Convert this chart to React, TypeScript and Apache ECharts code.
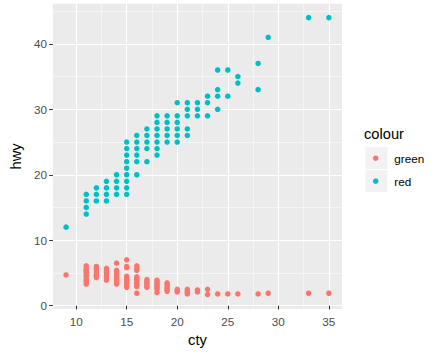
import React, { useEffect, useRef } from "react";
import * as echarts from "echarts";

const ctyValues = [9, 11, 12, 13, 14, 15, 16, 17, 18, 19, 20, 21, 22, 23, 24, 25, 26, 28, 29, 33, 35];
const hwyByCty = [
  [12],
  [14, 15, 16, 17],
  [16, 17, 18],
  [16, 17, 18, 19],
  [17, 18, 19, 20],
  [17, 18, 19, 20, 21, 22, 23, 24, 25],
  [20, 22, 23, 24, 25, 26],
  [22, 24, 25, 26, 27],
  [23, 24, 25, 26, 27, 28, 29],
  [25, 26, 27, 28, 29],
  [25, 26, 27, 28, 29, 31],
  [26, 27, 29, 30, 31],
  [29, 30, 31],
  [29, 31, 32],
  [30, 32, 33, 36],
  [32, 36],
  [34, 35],
  [33, 37],
  [41],
  [44],
  [44],
];
const displByCty = [
  [4.7],
  [6.1, 5.7, 5.4, 5.3, 5.0, 4.7, 4.4, 4.0, 3.7, 3.3],
  [6.0, 5.7, 5.5, 5.1, 4.7, 4.6, 4.3],
  [5.7, 5.4, 5.2, 4.9, 4.5, 4.2, 3.9],
  [6.5, 5.4, 5.2, 4.9, 4.7, 4.4, 4.2, 4.0, 3.8, 3.5, 3.3],
  [7.0, 6.0, 5.8, 4.5, 4.3, 4.0, 3.8, 3.5, 3.3, 3.0, 2.8],
  [6.1, 5.7, 5.4, 4.4, 4.2, 4.0, 3.8, 3.5, 3.3, 3.1, 2.9, 1.9],
  [4.0, 3.7, 3.5, 3.3, 3.0, 2.8],
  [3.9, 3.6, 3.3, 3.0, 2.8, 2.5, 2.0],
  [3.5, 3.3, 3.0, 2.7, 2.5, 2.2],
  [2.5, 2.3, 2.1],
  [2.5, 2.2, 2.0, 1.8],
  [2.4, 2.1],
  [2.5, 1.7],
  [1.8],
  [1.8],
  [1.8],
  [1.8],
  [1.9],
  [1.9],
  [1.9],
];
const seriesNames = ["green", "red"];
const seriesColors = ["#F8766D", "#00BFC4"];
const legendTitle = "colour";
const xTitle = "cty";
const yTitle = "hwy";
const xTicks = [10, 15, 20, 25, 30, 35];
const xMinorTicks = [12.5, 17.5, 22.5, 27.5, 32.5];
const yTicks = [0, 10, 20, 30, 40];
const yMinorTicks = [5, 15, 25, 35, 45];
const xLimits = [7.7, 36.3];
const yLimits = [-0.52, 46.12];

const FONT = "'Liberation Sans', Arial, sans-serif";

function pairs(byCty: number[][]): number[][] {
  const out: number[][] = [];
  byCty.forEach((vals, i) => vals.forEach((v) => out.push([ctyValues[i], v])));
  return out;
}

export default function App() {
  const ref = useRef<HTMLDivElement>(null);
  useEffect(() => {
    if (!ref.current) return;
    const chart = echarts.init(ref.current, null, { renderer: "svg" });
    const seriesData = [pairs(displByCty), pairs(hwyByCty)];
    const keyX = 365;
    const keyTop = 146.7;
    const keySize = 23;
    const legendChildren: any[] = [
      {
        type: "text",
        x: 364,
        y: 133.5,
        style: { text: legendTitle, fontSize: 14.7, fontFamily: FONT, fill: "#000", verticalAlign: "middle" },
      },
    ];
    seriesNames.forEach((name, i) => {
      const top = keyTop + i * keySize;
      legendChildren.push({
        type: "rect",
        shape: { x: keyX, y: top, width: keySize, height: keySize },
        style: { fill: "#F2F2F2", stroke: "#FFFFFF", lineWidth: 1 },
      });
      legendChildren.push({
        type: "circle",
        shape: { cx: keyX + keySize / 2 - 0.8, cy: top + keySize / 2, r: 2.75 },
        style: { fill: seriesColors[i] },
      });
      legendChildren.push({
        type: "text",
        x: 394.3,
        y: top + keySize / 2,
        style: { text: name, fontSize: 11.7, fontFamily: FONT, fill: "#000", verticalAlign: "middle" },
      });
    });

    chart.setOption({
      animation: false,
      backgroundColor: "#FFFFFF",
      grid: {
        left: 42,
        top: 3.75,
        width: 300,
        height: 309,
        show: true,
        backgroundColor: "#EBEBEB",
        borderWidth: 0,
      },
      xAxis: [
        {
          type: "value",
          min: xLimits[0],
          max: xLimits[1],
          position: "bottom",
          axisLine: { show: false },
          axisTick: { show: true, customValues: xTicks, length: 3.7, lineStyle: { color: "#333333", width: 1.07 } },
          axisLabel: { customValues: xTicks, color: "#4D4D4D", fontSize: 11.7, fontFamily: FONT, margin: 6 },
          splitLine: { show: true, lineStyle: { color: "#FFFFFF", width: 1.07 } },
          name: xTitle,
          nameLocation: "middle",
          nameGap: 22,
          nameTextStyle: { color: "#000", fontSize: 14.7, fontFamily: FONT },
        },
        {
          type: "value",
          min: xLimits[0],
          max: xLimits[1],
          position: "top",
          axisLine: { show: false },
          axisTick: { show: false, customValues: xMinorTicks },
          axisLabel: { show: false, customValues: xMinorTicks },
          splitLine: { show: true, lineStyle: { color: "#FFFFFF", width: 0.53 } },
        },
      ],
      yAxis: [
        {
          type: "value",
          min: yLimits[0],
          max: yLimits[1],
          position: "left",
          axisLine: { show: false },
          axisTick: { show: true, customValues: yTicks, length: 3.7, lineStyle: { color: "#333333", width: 1.07 } },
          axisLabel: { customValues: yTicks, color: "#4D4D4D", fontSize: 11.7, fontFamily: FONT, margin: 6 },
          splitLine: { show: true, lineStyle: { color: "#FFFFFF", width: 1.07 } },
          name: yTitle,
          nameLocation: "middle",
          nameGap: 22,
          nameRotate: 90,
          nameTextStyle: { color: "#000", fontSize: 14.7, fontFamily: FONT },
        },
        {
          type: "value",
          min: yLimits[0],
          max: yLimits[1],
          position: "right",
          axisLine: { show: false },
          axisTick: { show: false, customValues: yMinorTicks },
          axisLabel: { show: false, customValues: yMinorTicks },
          splitLine: { show: true, lineStyle: { color: "#FFFFFF", width: 0.53 } },
        },
      ],
      series: seriesNames.map((name, i) => ({
        name,
        type: "scatter",
        xAxisIndex: 0,
        yAxisIndex: 0,
        data: seriesData[i],
        symbol: "circle",
        symbolSize: 5.5,
        itemStyle: { color: seriesColors[i], opacity: 1 },
        emphasis: { disabled: true },
      })),
      graphic: [{ type: "group", children: legendChildren }],
    });
    return () => chart.dispose();
  }, []);
  return <div ref={ref} style={{ position: "fixed", left: 0, top: 0, width: 433, height: 352 }} />;
}
